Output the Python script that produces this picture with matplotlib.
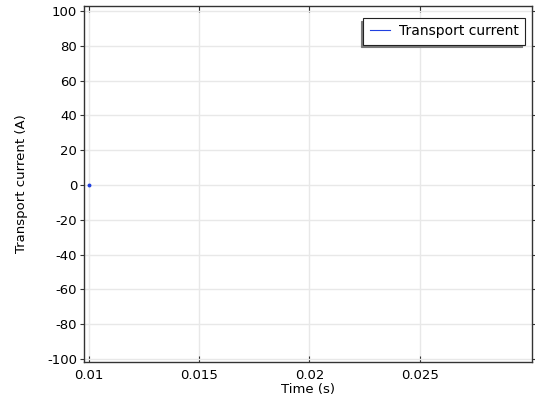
import matplotlib
matplotlib.use("Agg")
import matplotlib.pyplot as plt

# data: only the first sample at t = 0.01 s is present
time_s = [0.01]
current_a = [0.0]

x_ticks = [0.01, 0.015, 0.02, 0.025]
x_tick_labels = ["0.01", "0.015", "0.02", "0.025"]
y_ticks = [-100, -80, -60, -40, -20, 0, 20, 40, 60, 80, 100]

plt.rcParams['font.family'] = ['DejaVu Sans']
plt.rcParams['font.size'] = 9.5
plt.rcParams['axes.unicode_minus'] = False

fig = plt.figure(figsize=(5.35, 4.0), dpi=100)
ax = fig.add_axes([84 / 535, 1 - 362 / 400, (532 - 84) / 535, (362 - 6) / 400])

ax.plot(time_s, current_a, color="#2040e0", lw=1.0, marker="o", ms=1.8,
        label="Transport current")

ax.set_xlim(0.00977, 0.0301)
ax.set_ylim(-101.7, 102.9)
ax.set_xticks(x_ticks)
ax.set_xticklabels(x_tick_labels)
ax.set_yticks(y_ticks)

ax.grid(True, color="#e8e8e8", lw=1.0)
ax.set_axisbelow(True)

for s in ax.spines.values():
    s.set_color("#333333")
    s.set_linewidth(1.0)

ax.tick_params(axis="x", direction="in", length=4, width=0.8, color="#333333",
               top=True, labelsize=9.5, pad=5)
ax.tick_params(axis="y", direction="out", length=3, width=0.8, color="#333333",
               labelsize=9.5, pad=2)
ax.tick_params(axis="y", which="major", right=True)

ax.set_xlabel("Time (s)", fontsize=9.5, labelpad=1)
ax.set_ylabel("Transport current (A)", fontsize=9.5, labelpad=14)

leg = ax.legend(loc="upper right", bbox_to_anchor=(0.984, 0.966), borderaxespad=0,
                frameon=True, fancybox=False,
                shadow={"ox": -1.8, "oy": -1.8, "color": "#7a7a7a", "alpha": 1.0},
                handlelength=1.5, borderpad=0.45, handletextpad=0.6, fontsize=10)
leg.get_frame().set_edgecolor("#222222")
leg.get_frame().set_linewidth(0.8)
leg.legend_handles[0].set_marker("")
leg.legend_handles[0].set_linewidth(0.8)

fig.savefig("out.png", dpi=100)
